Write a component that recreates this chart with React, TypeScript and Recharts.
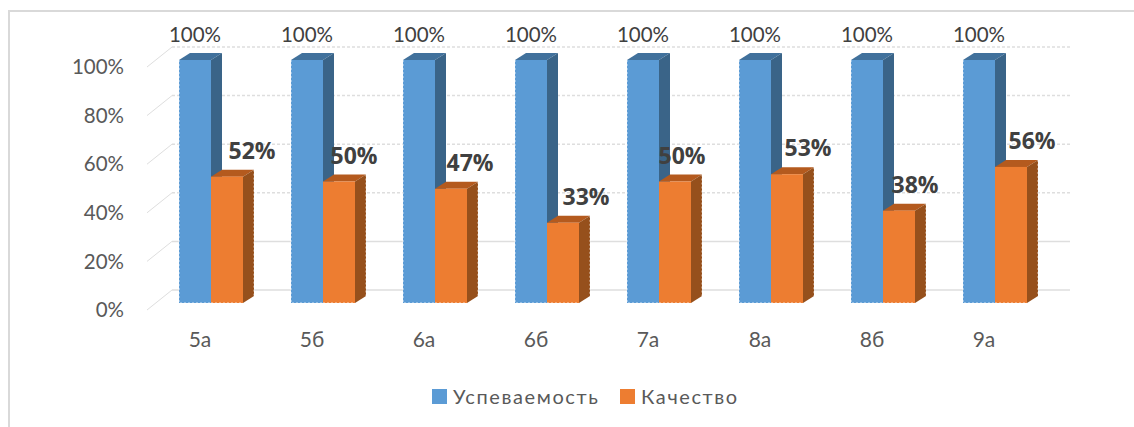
import { BarChart, Bar, XAxis, YAxis, CartesianGrid, Legend, LabelList } from 'recharts';

const classes = ['5а', '5б', '6а', '6б', '7а', '8а', '8б', '9а'];
const progress = [1, 1, 1, 1, 1, 1, 1, 1];
const quality = [0.52, 0.5, 0.47, 0.33, 0.5, 0.53, 0.38, 0.56];
const yTicks = [0, 0.2, 0.4, 0.6, 0.8, 1];
const seriesNames = ['Успеваемость', 'Качество'];

const chartData = classes.map((name, i) => ({ name, progress: progress[i], quality: quality[i] }));

const FONT = 'Lato, "Open Sans", sans-serif';
const DEPTH_X = 11;
const DEPTH_Y = 7;

// how far each bold label sits off its bar (the original has them hand placed)
const qualityLabelDx = [25, 15, 19, 23, 7, 21, 16, 21];

const percent = (v: number) => `${Math.round(v * 100)}%`;

function Bar3D({ x, y, width, height, front, top, side, leftEdge }: any) {
    const d = DEPTH_X;
    const h = DEPTH_Y;
    const right = x + width + d;
    // the source picture is a rough raster, its outer edges look nibbled
    const nibbled = leftEdge
        ? `M${x},${y} V${y + height} H${x + width}`
        : `M${x},${y + height} H${x + width} M${right},${y - h} V${y + height - h}`;
    return (
        <g>
            <polygon points={`${x},${y} ${x + d},${y - h} ${x + width + d},${y - h} ${x + width},${y}`} fill={top} />
            <polygon
                points={`${x + width},${y} ${x + width + d},${y - h} ${x + width + d},${y + height - h} ${x + width},${y + height}`}
                fill={side}
            />
            <rect x={x} y={y} width={width} height={height} fill={front} />
            <path d={nibbled} fill="none" stroke="#fff" strokeOpacity={0.7} strokeWidth={1} strokeDasharray="2 2" />
        </g>
    );
}

function GridLine({ x1, x2, y1, index }: any) {
    const solid = index < 2;
    return (
        <g stroke="#dedede" fill="none">
            <line x1={x1 + 17} x2={x2 + 19} y1={y1 - 13} y2={y1 - 13} strokeWidth={1.5} strokeDasharray={solid ? undefined : '3 2'} />
            <line x1={x1 - 8} x2={x1 + 17} y1={y1 + 7} y2={y1 - 13} strokeWidth={1} />
        </g>
    );
}

function ProgressLabel({ x, y, width, value }: any) {
    return (
        <text x={x + width / 2} y={y - 18} textAnchor="middle" fontFamily={FONT} fontSize={20.5} fill="#404040">
            {percent(value)}
        </text>
    );
}

function QualityLabel({ x, y, width, value, index }: any) {
    return (
        <text
            x={x + width / 2 + qualityLabelDx[index]}
            y={y - 18}
            textAnchor="middle"
            fontFamily={'"Open Sans", sans-serif'}
            fontWeight={700}
            fontSize={23}
            fill="#404040"
        >
            {percent(value)}
        </text>
    );
}

function ChartLegend() {
    const colors = ['#5b9bd5', '#ed7d31'];
    const lefts = [432, 620];
    return (
        <div style={{ position: 'relative', height: 0 }}>
            {seriesNames.map((s, i) => (
                <div key={s} style={{ position: 'absolute', left: lefts[i], top: 0, display: 'flex', alignItems: 'center', height: 20 }}>
                    <span style={{ width: 15, height: 15, background: colors[i], marginRight: 6 }} />
                    <span style={{ fontFamily: FONT, fontSize: 20, color: '#595959', letterSpacing: 1.6 }}>{s}</span>
                </div>
            ))}
        </div>
    );
}

export default function App() {
    return (
        <div style={{ position: 'absolute', left: 0, top: 0, width: 1134, height: 427, background: '#fff', overflow: 'hidden' }}>
            <div style={{ position: 'absolute', left: 8, top: 10, right: 0, bottom: 0, borderTop: '2px solid #d9d9d9', borderLeft: '2px solid #d9d9d9' }} />
            <BarChart
                width={1134}
                height={427}
                data={chartData}
                margin={{ top: 60, right: 83, bottom: 0, left: 0 }}
                barCategoryGap={24}
                barGap={0}
                style={{ position: 'absolute', left: 0, top: 0 }}
            >
                <CartesianGrid vertical={false} horizontal={(props: any) => <GridLine key={props.index} {...props} />} />
                <XAxis
                    dataKey="name"
                    height={124}
                    axisLine={false}
                    tickLine={false}
                    tickMargin={23}
                    dx={-11}
                    tick={{ fontFamily: FONT, fontSize: 21, fill: '#595959' }}
                />
                <YAxis
                    width={155}
                    domain={[0, 1]}
                    ticks={yTicks}
                    tickFormatter={percent}
                    axisLine={false}
                    tickLine={false}
                    tickMargin={25}
                    tick={{ fontFamily: FONT, fontSize: 20.5, fill: '#595959', dy: 7 }}
                />
                <Legend
                    verticalAlign="top"
                    height={0}
                    wrapperStyle={{ left: 0, top: 386, width: 1134 }}
                    content={() => <ChartLegend />}
                />
                <Bar
                    dataKey="progress"
                    name={seriesNames[0]}
                    isAnimationActive={false}
                    shape={(p: any) => <Bar3D {...p} front="#5b9bd5" top="#41719c" side="#3a6488" leftEdge />}
                >
                    <LabelList dataKey="progress" content={(p: any) => <ProgressLabel {...p} />} />
                </Bar>
                <Bar
                    dataKey="quality"
                    name={seriesNames[1]}
                    isAnimationActive={false}
                    shape={(p: any) => <Bar3D {...p} front="#ed7d31" top="#b45a1e" side="#96501c" />}
                >
                    <LabelList dataKey="quality" content={(p: any) => <QualityLabel {...p} />} />
                </Bar>
            </BarChart>
        </div>
    );
}
